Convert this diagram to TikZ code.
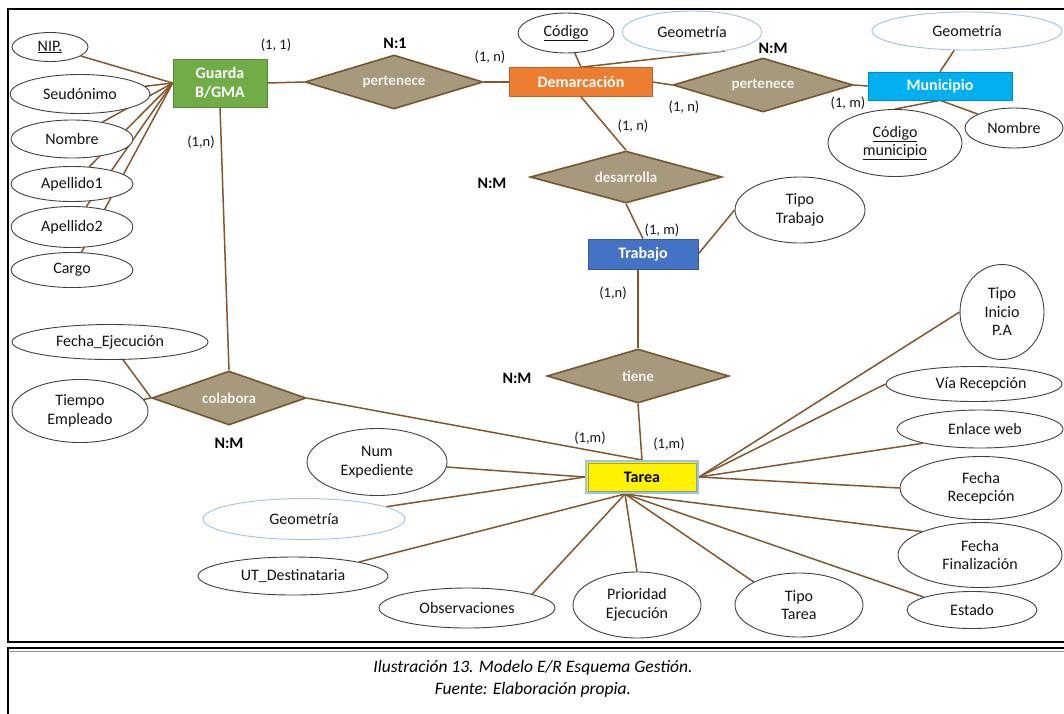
\documentclass[tikz,border=0pt]{standalone}
\usepackage{fontspec}
\setmainfont{Carlito}
\usetikzlibrary{shapes.geometric,calc}
\definecolor{linkbrown}{RGB}{133,86,44}
\definecolor{reltan}{RGB}{166,153,124}
\definecolor{relborder}{RGB}{120,85,45}
\definecolor{entgreen}{RGB}{112,173,71}
\definecolor{entorange}{RGB}{237,125,49}
\definecolor{entcyan}{RGB}{0,176,240}
\definecolor{entblue}{RGB}{68,114,196}
\definecolor{geoblue}{RGB}{157,195,230}
\definecolor{attrgray}{RGB}{64,64,64}
\definecolor{tareainner}{RGB}{150,160,120}
\pgfdeclarelayer{bg}
\pgfsetlayers{bg,main}
\begin{document}
\begin{tikzpicture}[x=1pt,y=-1pt,
  attr/.style 2 args={ellipse, draw=attrgray, line width=0.9pt, fill=white,
    minimum width=#1pt, minimum height=#2pt, inner sep=0pt, align=center,
    font=\fontsize{16}{18.5}\selectfont, text=black!92},
  geoattr/.style 2 args={attr={#1}{#2}, draw=geoblue},
  entity/.style 2 args={rectangle, minimum width=#1pt, minimum height=#2pt,
    inner sep=0pt, align=center, text=white,
    font=\bfseries\fontsize{16}{19}\selectfont},
  rel/.style 2 args={diamond, aspect=3, draw=relborder, line width=1.6pt,
    fill=reltan, minimum width=#1pt, minimum height=#2pt, inner sep=0pt,
    text=white!94!black, font=\bfseries\fontsize{15}{18}\selectfont},
  card/.style={font=\fontsize{14.5}{16}\selectfont, text=black!92},
  ratio/.style={font=\bfseries\fontsize{16}{18}\selectfont},
  link/.style={draw=linkbrown, line width=1.5pt},
  frameline/.style={draw=black, line width=2pt}
]
\useasboundingbox (0,0) rectangle (1064,713);

% frames
\draw[frameline] (1070,9) -- (8,9) -- (8,642) -- (1070,642);
\draw[frameline] (1070,648) -- (8,648) -- (8,720);
\draw[draw=black!45, line width=0.8pt] (10,651) -- (1070,651);

% entities
\node[entity={94}{48}, fill=entgreen, draw=entgreen!80!black, line width=0.6pt] (g) at (220,83) {Guarda\\B/GMA};
\node[entity={143}{29}, fill=entorange, draw=entorange!80!black, line width=0.6pt] (dem) at (581,82) {Demarcación};
\node[entity={144}{28}, fill=entcyan, draw=entcyan!80!black, line width=0.6pt] (mun) at (940,86) {Municipio};
\node[entity={110}{30}, fill=entblue, draw=entblue!80!black, line width=0.6pt] (trab) at (643,254) {Trabajo};
\node[entity={112}{32}, fill=yellow, draw=geoblue, line width=2pt, text=black] (tarea) at (642,477) {Tarea};
\draw[tareainner, line width=0.8pt] ($(tarea.south west)+(3,-3)$) rectangle ($(tarea.north east)+(-3,3)$);

% relationships
\node[rel={178}{54}] (per1) at (394,82) {pertenece};
\node[rel={180}{54}] (per2) at (763,85) {pertenece};
\node[rel={192}{52}] (des) at (626,177) {desarrolla};
\node[rel={182}{54}] (tiene) at (638,376) {tiene};
\node[rel={154}{54}] (col) at (229,398) {colabora};

% attributes of Guarda B/GMA
\node[attr={76}{29}] (nip) at (50,47) {\underline{NIP.}};
\node[attr={140}{39}] (seu) at (80,94) {Seudónimo};
\node[attr={122}{38}] (nom) at (72,139) {Nombre};
\node[attr={122}{35}] (ap1) at (72,184) {Apellido1};
\node[attr={122}{41}] (ap2) at (72,227) {Apellido2};
\node[attr={122}{35}] (cargo) at (72,270) {Cargo};

% attributes of Demarcación and Municipio
\node[attr={96}{40}] (cod) at (566,33) {\underline{Código}};
\node[geoattr={140}{42}] (geo1) at (692,32) {Geometría};
\node[geoattr={190}{38}] (geo2) at (967,31) {Geometría};
\node[attr={134}{67}] (codmun) at (895,143) {\underline{Código}\\\underline{municipio}};
\node[attr={98}{40}] (nom2) at (1014,128) {Nombre};

% attribute of Trabajo
\node[attr={130}{66}] (tipotrab) at (800,210) {Tipo\\Trabajo};

% attributes of colabora
\node[attr={196}{35}] (fejec) at (110,342) {Fecha\_Ejecución};
\node[attr={136}{63}] (tiempo) at (80,411) {Tiempo\\Empleado};

% attributes of Tarea
\node[attr={84}{95}] (tipoini) at (1002,312) {Tipo\\Inicio\\P.A};
\node[attr={176}{35}] (via) at (974,384) {\hspace*{14pt}Vía Recepción};
\node[attr={166}{38}] (enlace) at (980,429) {\hspace*{10pt}Enlace web};
\node[attr={162}{63}] (frec) at (981,488) {Fecha\\Recepción};
\node[attr={164}{65}] (ffin) at (980,555) {Fecha\\Finalización};
\node[attr={130}{37}] (estado) at (972,610) {Estado};
\node[attr={128}{64}] (tipotar) at (799,605) {Tipo\\Tarea};
\node[attr={128}{66}] (prior) at (637,605) {Prioridad\\Ejecución};
\node[attr={176}{40}] (obs) at (467,608) {Observaciones};
\node[attr={190}{38}] (utd) at (293,576) {UT\_Destinataria};
\node[geoattr={202}{41}] (geo3) at (304,519) {Geometría};
\node[attr={140}{67}] (numexp) at (377,462) {Num\\Expediente};

% cardinalities and ratios
\node[card] (c1) at (276,45) {(1, 1)};
\node[card] (c2) at (201,142) {(1,n)};
\node[ratio] (r1) at (395,43) {N:1};
\node[card] (c3) at (490,57) {(1, n)};
\node[card] (c4) at (684,107) {(1, n)};
\node[card] (c5) at (633,126) {(1, n)};
\node[ratio] (r2) at (773,48) {N:M};
\node[card] (c6) at (848,103) {(1, m)};
\node[ratio] (r3) at (492,183) {N:M};
\node[card] (c7) at (662,230) {(1, m)};
\node[card] (c8) at (613,293) {(1,n)};
\node[ratio] (r4) at (517,378) {N:M};
\node[card] (c9) at (590,438) {(1,m)};
\node[card] (c10) at (669,444) {(1,m)};
\node[ratio] (r5) at (229,443) {N:M};

% caption
\node[font=\itshape\fontsize{17.5}{22}\selectfont, align=center] (cap) at (533,679)
  {Ilustración 13. Modelo E/R Esquema Gestión.\\Fuente: Elaboración propia.};

\coordinate (tb) at ($(tarea.south)+(-17,0)$);

\begin{pgfonlayer}{bg}
  % relationship links
  \draw[link] (g.east) -- (per1.west);
  \draw[link] (per1.east) -- (dem.west);
  \draw[link] (dem.east) -- (per2.west);
  \draw[link] (per2.east) -- (mun.west);
  \draw[link] (dem.south) -- (des.north);
  \draw[link] (des.south) -- (trab.north);
  \draw[link] (trab.south -| tiene.north) -- (tiene.north);
  \draw[link] (tiene.south) -- (tarea.north);
  \draw[link] (g.south) -- (col.north);
  \draw[link] (col.east) -- (tarea.north);
  % attribute links
  \foreach \a in {nip,seu,nom,ap1,ap2,cargo} \draw[link] (\a) -- (g.west);
  \draw[link] (cod) -- (dem.north);
  \draw[link] (geo1.330) -- (dem.north);
  \draw[link] (geo2) -- (mun.north);
  \draw[link] (codmun.north) -- (mun.south);
  \draw[link] (nom2.159) -- (mun.south);
  \draw[link] (trab.east) -- (tipotrab.west);
  \draw[link] (fejec) -- (col.west);
  \draw[link] (tiempo) -- (col.west);
  \draw[link] (numexp) -- (tarea.west);
  \draw[link] (geo3) -- (tarea.west);
  \draw[link] (tipoini.west) -- (tarea.east);
  \draw[link] (via.west) -- (tarea.east);
  \draw[link] (enlace.194) -- (tarea.east);
  \draw[link] (frec.west) -- (tarea.east);
  \draw[link] (ffin.158) -- (tb);
  \draw[link] (estado.165) -- (tb);
  \draw[link] (tipotar.153) -- (tb);
  \draw[link] (prior.north) -- (tb);
  \draw[link] (obs.12) -- (tb);
  \draw[link] (utd.12) -- (tb);
\end{pgfonlayer}
\end{tikzpicture}
\end{document}
